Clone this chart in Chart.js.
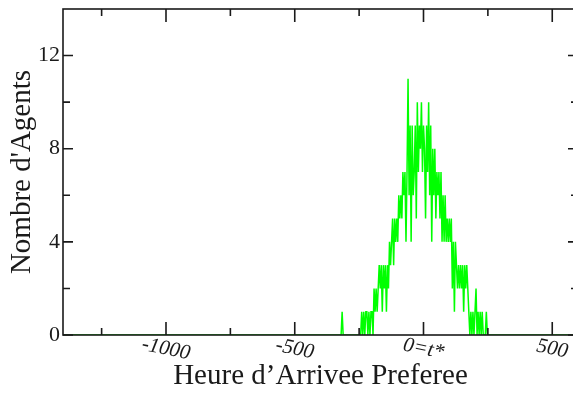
<!DOCTYPE html>
<html lang="fr">
<head>
    <meta charset="UTF-8">
    <title>Heure d'Arrivee Preferee</title>
    <script src="https://cdn.jsdelivr.net/npm/chart.js@4.4.1/dist/chart.umd.min.js"></script>
    <style>
        html, body {
            margin: 0;
            padding: 0;
            background: #fff;
            overflow: hidden;
        }
        .chart-box {
            width: 590px;
            height: 398px;
        }
    </style>
</head>
<body>
    <div class="chart-box"><canvas id="histChart"></canvas></div>
    <script>
        // axis ranges and ticks
        const timeRange = [-1400, 600];
        const countRange = [0, 14];
        const xMajor = [-1000, -500, 0, 500];
        const xTickLabels = ['-1000', '-500', '0=t*', '500'];
        const xMinor = [-1250, -750, -250, 250];
        const yMajor = [0, 4, 8, 12];
        const yMinor = [2, 6, 10];

        // histogram: number of agents per 4-minute bin, starting at binStart
        const binStart = -336;
        const binWidth = 4;
        const counts = [
            0, 0, 0, 0, 0, 1, 0, 0, 0, 0, 0, 0, 0, 0, 0, 0, 0, 0, 0, 0, 0, 0, 0, 0,
            1, 0, 1, 0, 1, 1, 0, 1, 0, 1, 1, 0,
            2, 1, 2, 1, 2, 3,
            2, 3, 1, 3, 2, 3, 1, 3,
            2, 4, 3, 4,
            5,
            3, 5, 4, 5, 4, 6, 5,
            6, 5, 7,
            6, 7, 4, 7,
            11,
            6,
            9, 4, 9, 6,
            7, 9, 5,
            10, 7, 9, 8, 10, 7, 9, 8,
            5, 9, 7, 10, 6, 9, 4, 8,
            6, 8, 5, 7, 6, 7, 5, 7,
            4, 6, 4, 6, 4, 5, 4, 5, 4, 5,
            2, 4, 1, 4, 3,
            2, 3, 2, 3, 2, 3, 1, 3, 2, 3, 2,
            1, 0, 1, 0, 1, 0, 1, 2, 0, 1,
            0, 1, 0, 1,
            0, 0, 0,
            1,
            0, 0, 0, 0
        ];

        const points = [{ x: timeRange[0], y: 0 }];
        counts.forEach((c, i) => points.push({ x: binStart + i * binWidth, y: c }));
        points.push({ x: timeRange[1], y: 0 });

        const ink = '#1a1a1a';
        const serif = '"Liberation Serif", "DejaVu Serif", serif';

        // frame, inward ticks on all four sides, slanted x labels
        const frameTicks = {
            id: 'frameTicks',
            afterDraw(chart) {
                const { ctx, chartArea: a, scales: { x, y } } = chart;
                ctx.save();
                ctx.strokeStyle = ink;
                ctx.lineWidth = 1.6;
                ctx.strokeRect(a.left, a.top, a.right - a.left, a.bottom - a.top);

                ctx.beginPath();
                const vTick = (v, len) => {
                    const px = x.getPixelForValue(v);
                    ctx.moveTo(px, a.bottom);
                    ctx.lineTo(px, a.bottom - len);
                    ctx.moveTo(px, a.top);
                    ctx.lineTo(px, a.top + len);
                };
                const hTick = (v, len) => {
                    const py = y.getPixelForValue(v);
                    ctx.moveTo(a.left, py);
                    ctx.lineTo(a.left + len, py);
                    ctx.moveTo(a.right, py);
                    ctx.lineTo(a.right - len, py);
                };
                xMajor.forEach(v => vTick(v, 13));
                xMinor.forEach(v => vTick(v, 7));
                yMajor.forEach(v => hTick(v, 10));
                yMinor.forEach(v => hTick(v, 7));
                ctx.stroke();

                ctx.fillStyle = ink;
                ctx.font = 'italic 21px ' + serif;
                ctx.textAlign = 'center';
                ctx.textBaseline = 'middle';
                xMajor.forEach((v, i) => {
                    ctx.save();
                    ctx.translate(x.getPixelForValue(v), a.bottom + 14);
                    ctx.rotate(0.2);
                    ctx.fillText(xTickLabels[i], 0, 0);
                    ctx.restore();
                });
                ctx.restore();
            }
        };

        const noPad = s => {
            s.paddingTop = 0;
            s.paddingBottom = 0;
            s.paddingLeft = 0;
            s.paddingRight = 0;
        };

        const ctx = document.getElementById('histChart').getContext('2d');
        const chart = new Chart(ctx, {
            type: 'line',
            data: {
                datasets: [{
                    data: points,
                    borderColor: '#00ff00',
                    borderWidth: 1.5,
                    pointRadius: 0,
                    tension: 0,
                    fill: false
                }]
            },
            options: {
                responsive: true,
                maintainAspectRatio: false,
                animation: false,
                layout: { padding: { top: 9, right: 12, left: 0, bottom: 0 } },
                plugins: {
                    legend: { display: false },
                    tooltip: { enabled: false }
                },
                scales: {
                    x: {
                        type: 'linear',
                        min: timeRange[0],
                        max: timeRange[1],
                        grid: { display: false, drawTicks: false },
                        border: { display: false },
                        ticks: { display: false },
                        afterFit: s => { s.height = 63; noPad(s); },
                        title: {
                            display: true,
                            text: 'Heure d’Arrivee Preferee',
                            color: ink,
                            font: { family: serif, size: 29, lineHeight: 1.2 },
                            padding: { top: 0, bottom: 4 }
                        }
                    },
                    y: {
                        min: countRange[0],
                        max: countRange[1],
                        grid: { display: false, drawTicks: false },
                        border: { display: false },
                        afterBuildTicks: s => { s.ticks = yMajor.map(v => ({ value: v })); },
                        afterFit: s => { s.width = 63; noPad(s); },
                        ticks: {
                            color: ink,
                            padding: 3,
                            font: { family: serif, size: 22 }
                        },
                        title: {
                            display: true,
                            text: "Nombre d'Agents",
                            color: ink,
                            font: { family: serif, size: 29, lineHeight: 1.2 },
                            padding: { top: 5, bottom: 0 }
                        }
                    }
                }
            },
            plugins: [frameTicks]
        });
    </script>
</body>
</html>
